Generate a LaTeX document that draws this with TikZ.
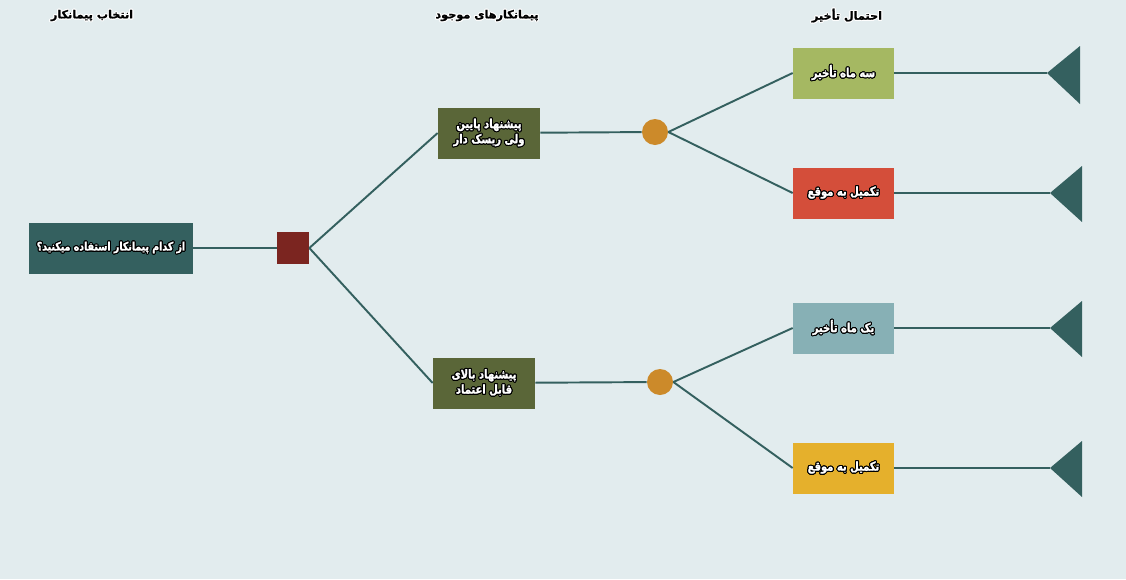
\documentclass[tikz,border=0pt]{standalone}
\usepackage{fontspec}
\newfontfamily\arabicfont[Script=Arabic, FakeBold=1.2]{DejaVu Sans}
\newfontfamily\arabicnarrow[Script=Arabic, FakeStretch=0.81, FakeBold=1.4]{DejaVu Sans}
\TeXXeTstate=1
\usepackage{contour}
\contourlength{0.6pt}
\usetikzlibrary{positioning}

\definecolor{bgcol}{HTML}{E2ECEE}
\definecolor{linecol}{HTML}{34605F}
\definecolor{oliveb}{HTML}{5A6638}
\definecolor{redsq}{HTML}{7B2520}
\definecolor{orangec}{HTML}{CC8A2A}
\definecolor{greenb}{HTML}{A5B862}
\definecolor{redb}{HTML}{D44E3A}
\definecolor{blueb}{HTML}{87B0B5}
\definecolor{yellowb}{HTML}{E5B02C}

\newcommand{\fatxt}[1]{\contour{black}{\beginR #1\endR}}
\newcommand{\fahead}[1]{\contour{white}{\beginR #1\endR}}

\tikzset{
  box/.style={rectangle, minimum height=1.02cm, inner sep=0pt, text=white,
    align=center, font=\arabicnarrow\bfseries\fontsize{7}{7.4}\selectfont},
  head/.style={text=black, font=\arabicfont\bfseries\fontsize{6.4}{7.2}\selectfont},
  link/.style={draw=linecol, line width=1.1pt},
}

\begin{document}
\begin{tikzpicture}[x=0.02cm, y=-0.02cm]
        \fill[bgcol] (0,0) rectangle (1126,579);
        \useasboundingbox (0,0) rectangle (1126,579);
        % headers
        \node[head] (h1) at (92,16) {\fahead{انتخاب پیمانکار}};
        \node[head] (h2) at (487,16) {\fahead{پیمانکارهای موجود}};
        \node[head] (h3) at (847,16) {\fahead{احتمال تأخیر}};
        % decision
        \node[box, fill=linecol, minimum width=3.28cm, font=\arabicnarrow\bfseries\fontsize{6.6}{7.4}\selectfont] (q) at (111,248) {\fatxt{از کدام پیمانکار استفاده میکنید؟}};
        \node[fill=redsq, minimum size=0.64cm, inner sep=0pt] (d) at (293,248) {};
        % contractors
        \node[box, fill=oliveb, minimum width=2.04cm] (low) at (489,133) {\fatxt{پیشنهاد پایین}\\\fatxt{ولی ریسک دار}};
        \node[box, fill=oliveb, minimum width=2.04cm] (high) at (484,383) {\fatxt{پیشنهاد بالای}\\\fatxt{قابل اعتماد}};
        \node[circle, fill=orangec, minimum size=0.52cm, inner sep=0pt] (c1) at (655,132) {};
        \node[circle, fill=orangec, minimum size=0.52cm, inner sep=0pt] (c2) at (660,382) {};
        % outcomes
        \node[box, fill=greenb, minimum width=2.02cm] (o1) at (843.5,73) {\fatxt{سه ماه تأخیر}};
        \node[box, fill=redb, minimum width=2.02cm] (o2) at (843.5,193) {\fatxt{تکمیل به موقع}};
        \node[box, fill=blueb, minimum width=2.02cm] (o3) at (843.5,328) {\fatxt{یک ماه تأخیر}};
        \node[box, fill=yellowb, minimum width=2.02cm] (o4) at (843.5,468) {\fatxt{تکمیل به موقع}};
        % end triangles
        \coordinate (t1) at (1047,73);
        \coordinate (t2) at (1050,193);
        \coordinate (t3) at (1050,328);
        \coordinate (t4) at (1050,468);
        \fill[linecol] (t1) -- (1080,46) -- (1080,104) -- cycle;
        \fill[linecol] (t2) -- (1082,166) -- (1082,222) -- cycle;
        \fill[linecol] (t3) -- (1082,301) -- (1082,357) -- cycle;
        \fill[linecol] (t4) -- (1082,441) -- (1082,497) -- cycle;
        % connectors
        \draw[link] (q) -- (d);
        \draw[link] (d.east) -- (low.west);
        \draw[link] (d.east) -- (high.west);
        \draw[link] (low) -- (c1);
        \draw[link] (high) -- (c2);
        \draw[link] (c1.east) -- (o1.west);
        \draw[link] (c1.east) -- (o2.west);
        \draw[link] (c2.east) -- (o3.west);
        \draw[link] (c2.east) -- (o4.west);
        \draw[link] (o1) -- (t1);
        \draw[link] (o2) -- (t2);
        \draw[link] (o3) -- (t3);
        \draw[link] (o4) -- (t4);
    \end{tikzpicture}
\end{document}
